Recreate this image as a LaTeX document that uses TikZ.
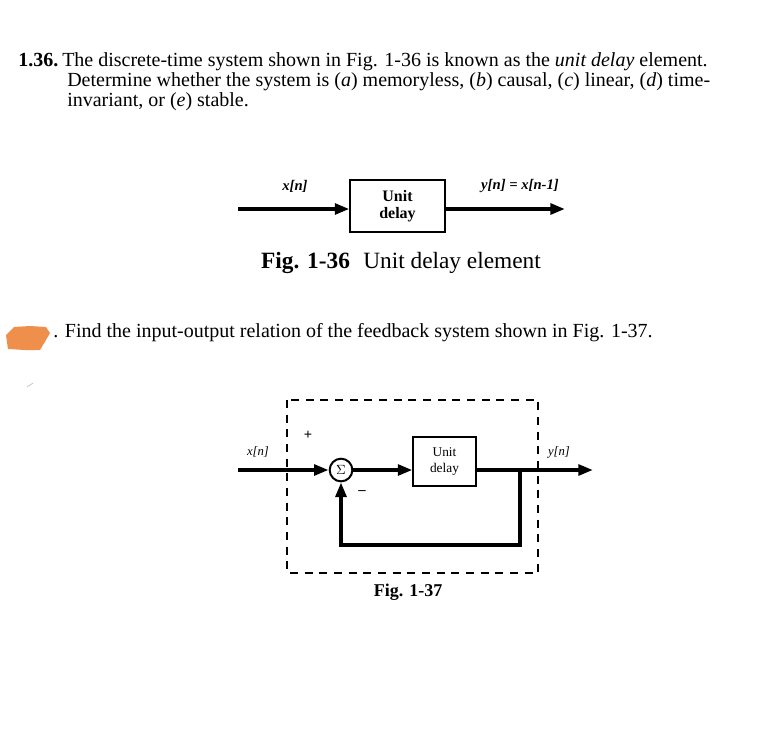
\documentclass[tikz,border=0pt]{standalone}
\usepackage{fontspec}
\setmainfont{Liberation Serif}
\usetikzlibrary{arrows.meta}
\definecolor{blob}{HTML}{EF8F4C}
\begin{document}
\begin{tikzpicture}[x=0.75pt,y=-0.75pt,
  txt/.style={anchor=west,inner sep=0pt,font=\fontsize{15}{18}\selectfont},
  blk/.style={draw,line width=1.1pt,inner sep=0pt,font=\fontsize{12}{13}\selectfont\bfseries,align=center},
  sig/.style={line width=3pt,-{Triangle[length=11pt,width=8pt]}},
  lab/.style={inner sep=0pt,font=\fontsize{11}{12}\selectfont\bfseries\itshape}]
\useasboundingbox (0,0) rectangle (784,729);
\fill[white] (0,0) rectangle (784,729);
% text
\node[txt] (l1) at (18,62) {\textbf{1.36.}\hspace{3pt}The discrete-time system shown in Fig. 1-36 is known as the \textit{unit delay} element.};
\node[txt] (l2) at (67,82) {Determine whether the system is (\textit{a}) memoryless, (\textit{b}) causal, (\textit{c}) linear, (\textit{d}) time-};
\node[txt] (l3) at (67,102) {invariant, or (\textit{e}) stable.};
% fig 1-36
\node[blk,minimum width=71pt,minimum height=39pt] (ud1) at (397.5,206) {Unit\\delay};
\coordinate (in1) at (238,209);
\coordinate (out1) at (565,209);
\draw[sig] (in1) -- (in1 -| ud1.west);
\draw[sig] (ud1.east |- out1) -- (out1);
\node[lab] (x1) at (295,186) {x[n]};
\node[lab] (y1) at (520,186) {y[n] = x[n-1]};
\node[inner sep=0pt,font=\fontsize{17.5}{20}\selectfont] (c1) at (401,263) {\textbf{Fig. 1-36}\hspace{10pt}Unit delay element};
% second problem
\fill[blob] (6,335) -- (14,327) -- (30,326) -- (46,327) -- (50,333) -- (46,340) -- (40,350) -- (25,350) -- (8,349) -- cycle;
\node[txt] (l4) at (53,333) {.\hspace{5pt}Find the input-output relation of the feedback system shown in Fig. 1-37.};
\draw[gray!60,line width=0.4pt] (27,387) -- (33,383);
% fig 1-37
\draw[line width=1.6pt,dash pattern=on 6pt off 5pt] (287,400) rectangle (538,573);
\node[draw,circle,line width=1.5pt,minimum size=17pt,inner sep=0pt,font=\fontsize{10}{11}\selectfont] (s) at (341,470) {$\Sigma$};
\node[blk,minimum width=47pt,minimum height=37pt,font=\fontsize{10}{12}\selectfont] (ud2) at (444.5,461.5) {Unit\\delay};
\coordinate (in2) at (238,470);
\coordinate (out2) at (593,470);
\coordinate (br) at (520,470);
\coordinate (bl) at (520,545);
\draw[sig] (in2) -- (s.west);
\draw[sig] (s.east) -- (s.east -| ud2.west);
\draw[sig] (ud2.east |- out2) -- (out2);
\draw[line width=3pt,-{Triangle[length=11pt,width=8pt]}] (br) -- (bl) -- (bl -| s.south) -- (s.south);
\node[lab,font=\fontsize{9.5}{10}\selectfont\itshape] (x2) at (258,452) {x[n]};
\node[lab,font=\fontsize{9.5}{10}\selectfont\itshape] (y2) at (559,452) {y[n]};
\node[inner sep=0pt,font=\fontsize{11}{12}\selectfont\bfseries] (p) at (308,435) {+};
\node[inner sep=0pt,font=\fontsize{11}{12}\selectfont\bfseries] (m) at (362,493) {--};
\node[inner sep=0pt,font=\fontsize{13.5}{14}\selectfont\bfseries] (c2) at (408,592) {Fig. 1-37};
\end{tikzpicture}
\end{document}
